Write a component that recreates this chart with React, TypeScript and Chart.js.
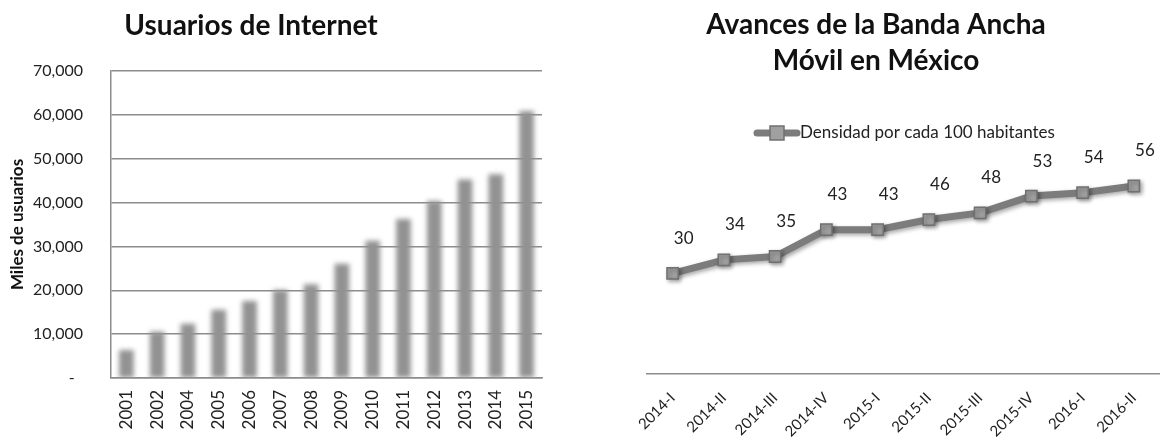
import React, { useEffect, useRef } from "react";
import { Chart, registerables } from "chart.js";

Chart.register(...registerables);

// ---------- data ----------
const years = ["2001", "2002", "2004", "2005", "2006", "2007", "2008", "2009", "2010", "2011", "2012", "2013", "2014", "2015"];
const usersThousands = [6300, 10500, 12300, 15500, 17500, 20000, 21300, 26000, 31200, 36200, 40300, 45200, 46400, 60800];
const usersTitle = "Usuarios de Internet";
const usersAxisTitle = "Miles de usuarios";

const quarters = ["2014-I", "2014-II", "2014-III", "2014-IV", "2015-I", "2015-II", "2015-III", "2015-IV", "2016-I", "2016-II"];
const density = [30, 34, 35, 43, 43, 46, 48, 53, 54, 56];
const bandTitleLines = ["Avances de la Banda Ancha", "Móvil en México"];
const bandLegend = "Densidad por cada 100 habitantes";

const FONT = "Lato, 'Open Sans', sans-serif";
const GRID = "#8c8c8c";

// ---------- plugins ----------
const titlePlugin = {
  id: "fixedTitle",
  afterDraw(chart: any, _a: any, opts: any) {
    const ctx = chart.ctx;
    (opts.lines || []).forEach((l: any) => {
      ctx.save();
      ctx.font = `bold ${opts.size}px ${FONT}`;
      ctx.fillStyle = "#111";
      ctx.textAlign = "center";
      ctx.textBaseline = "middle";
      ctx.fillText(l.text, l.x, l.y);
      ctx.restore();
    });
  },
};

const blurBarsPlugin = {
  id: "blurBars",
  beforeDatasetsDraw(chart: any) {
    const ctx = chart.ctx;
    ctx.save();
    ctx.filter = "blur(2.5px)";
  },
  afterDatasetsDraw(chart: any) {
    chart.ctx.restore();
  },
};

const lineDecorPlugin = {
  id: "lineDecor",
  beforeDatasetsDraw(chart: any) {
    const ctx = chart.ctx;
    ctx.save();
    ctx.shadowColor = "rgba(0,0,0,0.35)";
    ctx.shadowBlur = 4;
    ctx.shadowOffsetX = 2;
    ctx.shadowOffsetY = 2;
  },
  afterDatasetsDraw(chart: any, _a: any, opts: any) {
    const ctx = chart.ctx;
    ctx.restore();
    // data labels
    const meta = chart.getDatasetMeta(0);
    const data = chart.data.datasets[0].data;
    ctx.save();
    ctx.font = `17px ${FONT}`;
    ctx.fillStyle = "#222";
    ctx.textAlign = "center";
    ctx.textBaseline = "middle";
    meta.data.forEach((p: any, i: number) => {
      ctx.fillText(String(data[i]), p.x + opts.dx, p.y + opts.dy);
    });
    ctx.restore();
    // legend (line + square marker)
    const lg = opts.legend;
    ctx.save();
    ctx.strokeStyle = "#7c7c7c";
    ctx.lineWidth = 7;
    ctx.lineCap = "round";
    ctx.beginPath();
    ctx.moveTo(lg.x, lg.y);
    ctx.lineTo(lg.x + 40, lg.y);
    ctx.stroke();
    ctx.fillStyle = "#a0a0a0";
    ctx.strokeStyle = "#707070";
    ctx.lineWidth = 1.5;
    ctx.fillRect(lg.x + 13, lg.y - 7, 14, 14);
    ctx.strokeRect(lg.x + 13, lg.y - 7, 14, 14);
    ctx.font = `17px ${FONT}`;
    ctx.fillStyle = "#222";
    ctx.textAlign = "left";
    ctx.textBaseline = "middle";
    ctx.fillText(lg.text, lg.x + 43, lg.y);
    ctx.restore();
  },
};

// ---------- charts ----------
function UsersChart() {
  const ref = useRef<HTMLCanvasElement>(null);
  useEffect(() => {
    const chart = new Chart(ref.current as HTMLCanvasElement, {
      type: "bar",
      data: {
        labels: years,
        datasets: [
          {
            label: usersAxisTitle,
            data: usersThousands,
            backgroundColor: "#929292",
            barThickness: 14,
          },
        ],
      },
      options: {
        responsive: false,
        animation: false,
        layout: { padding: { top: 71, right: 38, left: 0, bottom: 0 } },
        plugins: {
          legend: { display: false },
          tooltip: { enabled: false },
          fixedTitle: { size: 28, lines: [{ text: usersTitle, x: 251, y: 26 }] },
        } as any,
        scales: {
          x: {
            grid: { display: false, drawTicks: false },
            border: { display: true, color: GRID, width: 1.5 },
            ticks: {
              autoSkip: false,
              minRotation: 90,
              maxRotation: 90,
              padding: 12,
              color: "#222",
              font: { family: FONT, size: 17 },
            },
            afterFit: (s: any) => {
              s.height = 62;
            },
          },
          y: {
            min: 0,
            max: 70000,
            grid: { color: GRID, lineWidth: 1.5, drawTicks: false },
            border: { display: true, color: GRID, width: 1.5 },
            ticks: {
              stepSize: 10000,
              padding: 28,
              color: "#222",
              font: { family: FONT, size: 16 },
              callback: (v: any) => (Number(v) === 0 ? "-  " : Number(v).toLocaleString("en-US")),
            },
            title: {
              display: true,
              text: usersAxisTitle,
              color: "#111",
              font: { family: FONT, size: 17, weight: "bold" },
              padding: { top: 7, bottom: 0 },
            },
            afterFit: (s: any) => {
              s.width = 111;
            },
          },
        },
      },
      plugins: [titlePlugin, blurBarsPlugin],
    } as any);
    return () => chart.destroy();
  }, []);
  return <canvas ref={ref} width={580} height={440} style={{ position: "absolute", left: 0, top: 0 }} />;
}

function BandChart() {
  const ref = useRef<HTMLCanvasElement>(null);
  useEffect(() => {
    const chart = new Chart(ref.current as HTMLCanvasElement, {
      type: "line",
      data: {
        labels: quarters,
        datasets: [
          {
            label: bandLegend,
            data: density,
            borderColor: "#7c7c7c",
            borderWidth: 7,
            pointStyle: "rect",
            pointRadius: 8,
            pointBackgroundColor: "#a0a0a0",
            pointBorderColor: "#707070",
            pointBorderWidth: 1.5,
            tension: 0,
          },
        ],
      },
      options: {
        responsive: false,
        animation: false,
        layout: { padding: { top: 139, right: 4, left: 67, bottom: 0 } },
        plugins: {
          legend: { display: false },
          tooltip: { enabled: false },
          fixedTitle: {
            size: 28,
            lines: [
              { text: bandTitleLines[0], x: 296, y: 25 },
              { text: bandTitleLines[1], x: 296, y: 61 },
            ],
          },
          lineDecor: { dx: 11, dy: -35, legend: { x: 177, y: 133, text: bandLegend } },
        } as any,
        scales: {
          x: {
            offset: true,
            grid: { display: false, drawTicks: false },
            border: { display: true, color: GRID, width: 1.5 },
            ticks: {
              autoSkip: false,
              minRotation: 45,
              maxRotation: 45,
              padding: 15,
              color: "#222",
              font: { family: FONT, size: 15 },
            },
            afterFit: (s: any) => {
              s.height = 66;
            },
          },
          y: { display: false, min: 0, max: 70 },
        },
      },
      plugins: [titlePlugin, lineDecorPlugin],
    } as any);
    return () => chart.destroy();
  }, []);
  return <canvas ref={ref} width={589} height={440} style={{ position: "absolute", left: 580, top: 0 }} />;
}

export default function App() {
  return (
    <div style={{ position: "fixed", left: 0, top: 0, width: 1169, height: 440, background: "#fff", overflow: "hidden" }}>
      <UsersChart />
      <BandChart />
    </div>
  );
}
